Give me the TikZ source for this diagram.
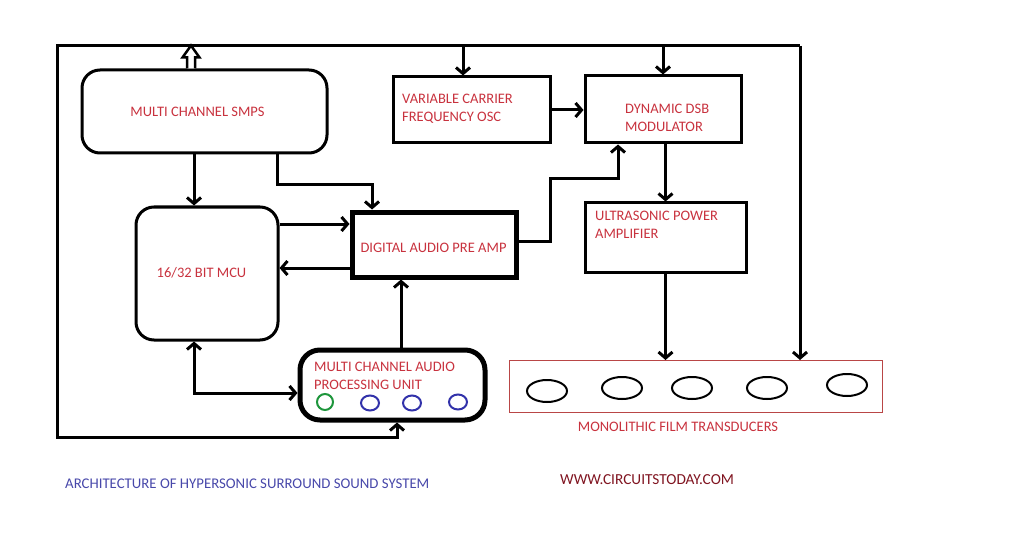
\documentclass[tikz,border=0pt]{standalone}
\usepackage{fontspec}
\setmainfont{Carlito}
\usetikzlibrary{arrows.meta}
\definecolor{lblred}{RGB}{200,50,62}
\definecolor{lblblue}{RGB}{72,72,170}
\definecolor{webred}{RGB}{128,20,32}
\definecolor{boxred}{RGB}{185,70,70}
\definecolor{ledgreen}{RGB}{30,150,60}
\definecolor{ledblue}{RGB}{50,50,170}
\tikzset{
    blk/.style={draw, line width=3pt, inner sep=0pt},
    rblk/.style={blk, rounded corners=18pt},
    thickblk/.style={blk, line width=5pt},
    lbl/.style={text=lblred, font=\fontsize{14.5}{18}\selectfont, inner sep=0pt, align=left},
    wire/.style={line width=3pt},
    arr/.style={wire, -{Straight Barb[length=6pt,width=14pt]}},
    dblarr/.style={wire, {Straight Barb[length=6pt,width=14pt]}-{Straight Barb[length=6pt,width=14pt]}},
}
\begin{document}
\begin{tikzpicture}[x=1pt,y=-1pt]
    \useasboundingbox (0,0) rectangle (1018,559);

    \node[rblk, minimum width=245pt, minimum height=83pt] (smps) at (204.5,111.5) {};
    \node[rblk, minimum width=142pt, minimum height=133pt] (mcu) at (207,273.5) {};
    \node[thickblk, minimum width=164pt, minimum height=65pt] (dapa) at (434,244.5) {};
    \node[thickblk, rounded corners=20pt, minimum width=185pt, minimum height=70pt] (apu) at (392.5,385) {};
    \node[blk, minimum width=157pt, minimum height=66pt] (vcfo) at (471.5,110) {};
    \node[blk, minimum width=156pt, minimum height=67pt] (dsb) at (663,109.5) {};
    \node[blk, minimum width=161pt, minimum height=69pt] (upa) at (665.5,237.5) {};
    \node[draw=boxred, line width=1pt, inner sep=0pt, minimum width=373pt, minimum height=52pt] (trd) at (695.5,386.5) {};

    \node[lbl] (smpstxt) at (197.5,112) {MULTI CHANNEL SMPS};
    \node[lbl] (mcutxt) at (201.5,273) {16/32 BIT MCU};
    \node[lbl] (dapatxt) at (433.5,248) {DIGITAL AUDIO PRE AMP};
    \node[lbl, anchor=west] (aputxt) at (314,375.5) {MULTI CHANNEL AUDIO\\PROCESSING UNIT};
    \node[lbl, anchor=west] (vcfotxt) at (402,108.5) {VARIABLE CARRIER\\FREQUENCY OSC};
    \node[lbl, anchor=west] (dsbtxt) at (625,118) {DYNAMIC DSB\\MODULATOR};
    \node[lbl, anchor=west] (upatxt) at (595,225) {ULTRASONIC POWER\\AMPLIFIER};
    \node[lbl] (trdtxt) at (678,427) {MONOLITHIC FILM TRANSDUCERS};
    \node[lbl, text=lblblue, anchor=west, font=\fontsize{14.8}{18}\selectfont] (title) at (65,484) {ARCHITECTURE OF HYPERSONIC SURROUND SOUND SYSTEM};
    \node[lbl, text=webred, anchor=west, font=\fontsize{15.3}{18}\selectfont] (web) at (560,480) {WWW.CIRCUITSTODAY.COM};

    \draw[ledgreen, line width=2pt] (325,402) circle [radius=8pt];
    \draw[ledblue, line width=2pt] (370,403) ellipse [x radius=9pt, y radius=7.5pt];
    \draw[ledblue, line width=2pt] (412,403) ellipse [x radius=9pt, y radius=7.5pt];
    \draw[ledblue, line width=2pt] (458,402) ellipse [x radius=9pt, y radius=7.5pt];

    \draw[line width=2pt] (547,391) ellipse [x radius=20pt, y radius=11pt];
    \draw[line width=2pt] (622,388) ellipse [x radius=20pt, y radius=11pt];
    \draw[line width=2pt] (692,388) ellipse [x radius=20pt, y radius=11pt];
    \draw[line width=2pt] (767,388) ellipse [x radius=20pt, y radius=11pt];
    \draw[line width=2pt] (847,385) ellipse [x radius=20pt, y radius=11pt];

    \coordinate (tl) at (57,46);
    \coordinate (tr) at (800,46);
    \coordinate (bl) at (57,437);
    \draw[arr] (tr) -- (tl) -- (bl) -| ([xshift=4.5pt]apu.south);
    \draw[arr] (tr) -- (tr |- trd.north);

    \coordinate (pwr) at ([xshift=-13.5pt]smps.north);
    \draw[line width=2.5pt, fill=white] (pwr) ++(-4,0) -- ++(0,-11) -- ++(-4.5,0) -- ++(8.5,-12) -- ++(8.5,12) -- ++(-4.5,0) -- ++(0,11);

    \coordinate (vin) at ([xshift=-8.5pt]vcfo.north);
    \draw[arr] (vin |- tl) -- (vin);
    \draw[arr] (dsb.north |- tl) -- (dsb.north);

    \coordinate (min) at ([xshift=-13pt]mcu.north);
    \draw[arr] (min |- smps.south) -- (min);
    \draw[arr] ([xshift=72.5pt]smps.south) -- ++(0,30) -| ([xshift=-62pt]dapa.north);

    \coordinate (m2d) at ([yshift=20.5pt]dapa.west);
    \draw[arr] (m2d -| mcu.east) -- (m2d);
    \coordinate (d2m) at ([yshift=-23.5pt]dapa.west);
    \draw[arr] (d2m) -- (d2m -| mcu.east);

    \coordinate (a2d) at ([xshift=8.5pt]apu.north);
    \draw[arr] (a2d) -- (a2d |- dapa.south);
    \draw[dblarr] (min |- mcu.south) |- ([yshift=-8pt]apu.west);

    \draw[arr] ([yshift=3.5pt]dapa.east) -- ++(32,0) -- ++(0,-62) -| ([xshift=-45pt]dsb.south);
    \draw[arr] (vcfo.east) -- (vcfo.east -| dsb.west);
    \draw[arr] (upa.north |- dsb.south) -- (upa.north);
    \draw[arr] (upa.south) -- (upa.south |- trd.north);
\end{tikzpicture}
\end{document}
